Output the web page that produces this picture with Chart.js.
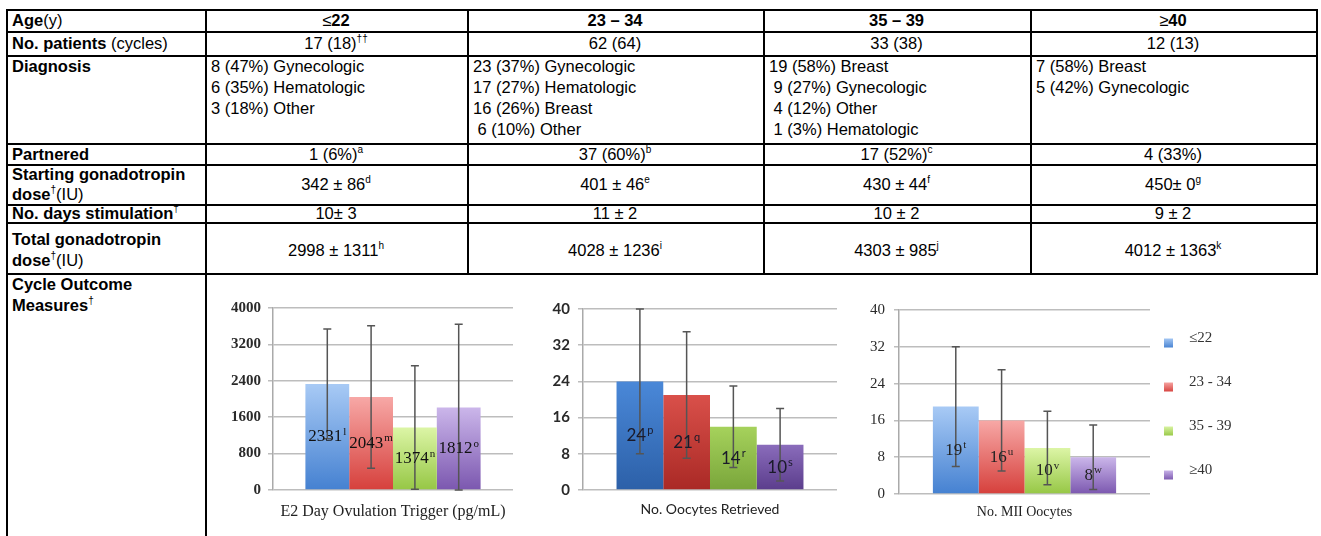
<!DOCTYPE html>
<html>
<head>
<meta charset="utf-8">
<script src="https://cdn.jsdelivr.net/npm/chart.js@4.4.1/dist/chart.umd.min.js"></script>
<style>
body { margin: 0; width: 1321px; height: 536px; background: #fff; position: relative; overflow: hidden;
       font-family: "Liberation Sans", Arial, sans-serif; font-size: 16.5px; color: #000; }
.cell { position: absolute; box-sizing: border-box; display: flex; align-items: center; padding: 0 6px;
        line-height: 20px; white-space: nowrap; }
.cell.c { justify-content: center; }
.cell.t { align-items: flex-start; padding-top: 1px; line-height: 21px; }
.cell.low { padding-top: 5px; line-height: 21px; }
.hl { position: absolute; height: 1.5px; background: #000; }
.vl { position: absolute; width: 1.5px; background: #000; }
sup { font-size: 10px; line-height: 0; vertical-align: 7px; }
.chartbox { position: absolute; }
</style>
</head>
<body>
<div id="table"></div>
<div class="chartbox" style="left:215px;top:292px"><canvas id="e2Chart" width="310" height="236"></canvas></div>
<div class="chartbox" style="left:525px;top:292px"><canvas id="oocyteChart" width="315" height="236"></canvas></div>
<div class="chartbox" style="left:840px;top:292px"><canvas id="miiChart" width="481" height="236"></canvas></div>
<script>
// chart data
const ageGroups = ['≤22', '23 - 34', '35 - 39', '≥40'];

const e2Means = [2331, 2043, 1374, 1812];
const e2Sd = [1207, 1567, 1358, 1830];
const e2Marks = ['l', 'm', 'n', 'o'];

const oocyteMeans = [24, 21, 14, 10];
const oocyteSd = [16, 14, 9, 8];
const oocyteMarks = ['p', 'q', 'r', 's'];

const miiMeans = [19, 16, 10, 8];
const miiSd = [13, 11, 8, 7];
const miiMarks = ['t', 'u', 'v', 'w'];

// table text
const rowLabels = ['<b>Age</b>(y)', '<b>No. patients</b> (cycles)', '<b>Diagnosis</b>', '<b>Partnered</b>',
  '<b>Starting gonadotropin<br>dose</b><sup>†</sup>(IU)', '<b>No. days stimulation</b><sup>†</sup>',
  '<b>Total gonadotropin<br>dose</b><sup>†</sup>(IU)', '<b>Cycle Outcome<br>Measures</b><sup>†</sup>'];
const ageHeaders = ['≤<b>22</b>', '<b>23 – 34</b>', '<b>35 – 39</b>', '≥<b>40</b>'];
const patients = ['17 (18)<sup>††</sup>', '62 (64)', '33 (38)', '12 (13)'];
const diagnosis = [
  ['8 (47%) Gynecologic', '6 (35%) Hematologic', '3 (18%) Other'],
  ['23 (37%) Gynecologic', '17 (27%) Hematologic', '16 (26%) Breast', '&nbsp;6 (10%) Other'],
  ['19 (58%) Breast', '&nbsp;9 (27%) Gynecologic', '&nbsp;4 (12%) Other', '&nbsp;1 (3%) Hematologic'],
  ['7 (58%) Breast', '5 (42%) Gynecologic']
];
const partnered = ['1 (6%)<sup>a</sup>', '37 (60%)<sup>b</sup>', '17 (52%)<sup>c</sup>', '4 (33%)'];
const startDose = ['342 ± 86<sup>d</sup>', '401 ± 46<sup>e</sup>', '430 ± 44<sup>f</sup>', '450± 0<sup>g</sup>'];
const stimDays = ['10± 3', '11 ± 2', '10 ± 2', '9 ± 2'];
const totalDose = ['2998 ± 1311<sup>h</sup>', '4028 ± 1236<sup>i</sup>', '4303 ± 985<sup>j</sup>', '4012 ± 1363<sup>k</sup>'];

const colX = [6, 205, 467, 763, 1030, 1316];
const rowY = [9, 31, 55, 143, 164, 204, 222, 273, 536];

const table = document.getElementById('table');

function addCell(html, col, row, cls) {
  const d = document.createElement('div');
  d.className = 'cell ' + cls;
  d.style.left = colX[col] + 'px';
  d.style.top = rowY[row] + 'px';
  d.style.width = (colX[col + 1] - colX[col]) + 'px';
  d.style.height = (rowY[row + 1] - rowY[row]) + 'px';
  d.innerHTML = '<div>' + html + '</div>';
  table.appendChild(d);
}

rowLabels.forEach((lbl, r) => addCell(lbl, 0, r, (r === 2 || r === 7) ? 't' : (r === 6 ? 'low' : '')));
const centeredRows = [[0, ageHeaders], [1, patients], [3, partnered], [4, startDose], [5, stimDays], [6, totalDose]];
centeredRows.forEach(([r, vals]) => vals.forEach((v, i) => addCell(v, i + 1, r, r === 6 ? 'c low' : 'c')));
diagnosis.forEach((lines, i) => addCell(lines.join('<br>'), i + 1, 2, 't'));

// grid lines
for (let r = 0; r < rowY.length - 1; r++) {
  const h = document.createElement('div');
  h.className = 'hl';
  h.style.left = colX[0] + 'px';
  h.style.top = rowY[r] + 'px';
  h.style.width = (colX[5] - colX[0] + 1.5) + 'px';
  table.appendChild(h);
}
colX.forEach((x, i) => {
  const v = document.createElement('div');
  v.className = 'vl';
  v.style.left = x + 'px';
  v.style.top = rowY[0] + 'px';
  const bottom = i <= 1 ? rowY[8] : rowY[7];
  v.style.height = (bottom - rowY[0]) + 'px';
  table.appendChild(v);
});

// bar colours, top -> bottom
const lightColors = [['#a8caf5', '#4581d1'], ['#f7a8a6', '#d6403c'], ['#dcf5a6', '#96c745'], ['#cbb6ea', '#7b57af']];
const darkColors = [['#4a88d8', '#2c60a8'], ['#d9504a', '#aa2925'], ['#a6d25c', '#79a53a'], ['#8a6cbb', '#5b3d8c']];

function barFill(colors) {
  return function (c) {
    const chart = c.chart;
    const pair = colors[c.datasetIndex];
    const y = chart.scales.y;
    if (!chart.chartArea || !y || c.raw === undefined) return pair[1];
    const top = y.getPixelForValue(c.raw);
    const bottom = y.getPixelForValue(0);
    const g = chart.ctx.createLinearGradient(0, top, 0, bottom);
    g.addColorStop(0, pair[0]);
    g.addColorStop(1, pair[1]);
    return g;
  };
}

// error bars and the value labels with their superscript letters
const barExtras = {
  id: 'barExtras',
  afterDatasetsDraw(chart, args, opts) {
    const ctx = chart.ctx;
    const y = chart.scales.y;
    ctx.save();
    chart.data.datasets.forEach((ds, i) => {
      const bar = chart.getDatasetMeta(i).data[0];
      const mean = ds.data[0];
      const yTop = y.getPixelForValue(mean + opts.sd[i]);
      const yBot = y.getPixelForValue(Math.max(0, mean - opts.sd[i]));
      ctx.strokeStyle = '#555';
      ctx.lineWidth = 1.5;
      ctx.beginPath();
      ctx.moveTo(bar.x, yTop); ctx.lineTo(bar.x, yBot);
      ctx.moveTo(bar.x - 4, yTop); ctx.lineTo(bar.x + 4, yTop);
      ctx.moveTo(bar.x - 4, yBot); ctx.lineTo(bar.x + 4, yBot);
      ctx.stroke();
    });
    ctx.textBaseline = 'middle';
    ctx.textAlign = 'left';
    ctx.fillStyle = opts.color;
    chart.data.datasets.forEach((ds, i) => {
      const bar = chart.getDatasetMeta(i).data[0];
      const mean = ds.data[0];
      const cy = y.getPixelForValue(mean / 2);
      const text = String(mean);
      ctx.font = opts.font;
      const w1 = ctx.measureText(text).width;
      ctx.font = opts.supFont;
      const w2 = ctx.measureText(opts.marks[i]).width;
      const x = bar.x - (w1 + w2 + 1) / 2;
      ctx.font = opts.font;
      ctx.fillText(text, x, cy);
      ctx.font = opts.supFont;
      ctx.fillText(opts.marks[i], x + w1 + 1, cy - 5);
    });
    ctx.restore();
  }
};

// legend on the right side of the last chart
const sideLegend = {
  id: 'sideLegend',
  afterDraw(chart, args, opts) {
    if (!opts.show) return;
    const area = chart.chartArea;
    const ctx = chart.ctx;
    const mid = (area.top + area.bottom) / 2 + 7;
    ctx.save();
    chart.data.datasets.forEach((ds, i) => {
      const cy = mid + (i - 1.5) * 44;
      const pair = opts.colors[i];
      const g = ctx.createLinearGradient(0, cy - 5, 0, cy + 5);
      g.addColorStop(0, pair[0]);
      g.addColorStop(1, pair[1]);
      ctx.fillStyle = g;
      ctx.fillRect(area.right + 14, cy - 4.5, 9, 9);
      ctx.fillStyle = '#333';
      ctx.font = opts.font;
      ctx.textBaseline = 'middle';
      ctx.fillText(ds.label, area.right + 39, cy - 5);
    });
    ctx.restore();
  }
};

function buildChart(id, means, sds, marks, style) {
  return new Chart(document.getElementById(id), {
    type: 'bar',
    data: {
      labels: [''],
      datasets: ageGroups.map((g, i) => ({
        label: g,
        data: [means[i]],
        backgroundColor: barFill(style.colors),
        borderWidth: 0,
        categoryPercentage: style.catPct,
        barPercentage: 1
      }))
    },
    options: {
      responsive: false,
      animation: false,
      layout: { padding: style.padding },
      plugins: {
        legend: { display: false },
        tooltip: { enabled: false },
        barExtras: { sd: sds, marks: marks, font: style.labelFont, supFont: style.supFont, color: style.labelColor },
        sideLegend: { show: !!style.legend, colors: style.colors, font: '15px "Liberation Serif"' }
      },
      scales: {
        x: {
          grid: { display: false },
          border: { display: false },
          ticks: { display: false },
          title: { display: true, text: style.title, font: style.titleFont, color: '#222',
                   padding: { top: 0, bottom: style.titlePad } },
          afterFit: s => { s.height = style.xHeight; }
        },
        y: {
          min: 0,
          max: style.max,
          ticks: { stepSize: style.step, font: style.tickFont, color: '#2a2a2a', padding: style.tickPad,
                   callback: v => String(v) },
          grid: { color: '#bdbdbd', lineWidth: 1.5, tickLength: 5 },
          border: { color: '#aaaaaa', width: 1.5 },
          afterFit: s => { s.width = style.yWidth; }
        }
      }
    },
    plugins: [barExtras, sideLegend]
  });
}

buildChart('e2Chart', e2Means, e2Sd, e2Marks, {
  colors: lightColors, catPct: 0.73, max: 4000, step: 800,
  padding: { top: 8, right: 12, left: 0, bottom: 0 }, yWidth: 58, xHeight: 38, titlePad: 7,
  title: 'E2 Day Ovulation Trigger (pg/mL)', titleFont: { family: 'Liberation Serif', size: 16 },
  tickFont: { family: 'Liberation Serif', size: 15, weight: 'bold' }, tickPad: 7,
  labelFont: '17px "Liberation Serif"', supFont: '11px "Liberation Serif"', labelColor: '#111'
});

buildChart('oocyteChart', oocyteMeans, oocyteSd, oocyteMarks, {
  colors: darkColors, catPct: 0.736, max: 40, step: 8,
  padding: { top: 9, right: 3, left: 0, bottom: 0 }, yWidth: 58, xHeight: 38, titlePad: 10,
  title: 'No. Oocytes Retrieved', titleFont: { family: 'Lato', size: 14 },
  tickFont: { family: 'Lato', size: 15, weight: 'bold' }, tickPad: 8,
  labelFont: '17px Lato', supFont: '11px Lato', labelColor: '#1a1a2a'
});

buildChart('miiChart', miiMeans, miiSd, miiMarks, {
  colors: lightColors, catPct: 0.73, max: 40, step: 8, legend: true,
  padding: { top: 9, right: 171, left: 0, bottom: 0 }, yWidth: 59, xHeight: 34, titlePad: 7,
  title: 'No. MII Oocytes', titleFont: { family: 'Liberation Serif', size: 14 },
  tickFont: { family: 'Liberation Serif', size: 15 }, tickPad: 9,
  labelFont: '17px "Liberation Serif"', supFont: '11px "Liberation Serif"', labelColor: '#222'
});
</script>
</body>
</html>
